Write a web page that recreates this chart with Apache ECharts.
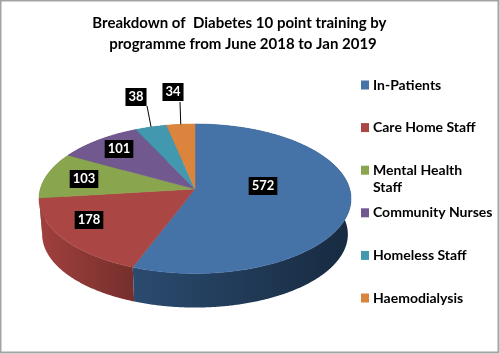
<!DOCTYPE html>
<html>
<head>
<meta charset="utf-8">
<style>
html,body{margin:0;padding:0;background:#fff}
#chartView{width:500px;height:354px}
</style>
<script src="https://cdn.jsdelivr.net/npm/echarts@6/dist/echarts.min.js"></script>
</head>
<body>
<div id="chartView"></div>
<script>
var categories = ['In-Patients', 'Care Home Staff', 'Mental Health Staff', 'Community Nurses', 'Homeless Staff', 'Haemodialysis'];
var values = [572, 178, 103, 101, 38, 34];
var colors = ['#4572a7', '#aa4643', '#89a54e', '#71588f', '#4198af', '#db843d'];

// side wall shading, left to right
var sideShades = [['#2b4b6f', '#172a40'], ['#a0403d', '#752f2c'], ['#667b3a', '#667b3a'], ['#54416a', '#54416a'], ['#306f81', '#306f81'], ['#a2622d', '#a2622d']];
// where the value boxes sit, and which of them get a leader line
var labelSpots = [[263, 186], [89, 220], [84, 179], [119, 149], [136, 97], [173, 92]];
var leaderFrom = [null, null, null, null, [147, 106], [180, 102]];

// perspective of the disc
var cx = 195, cy = 189, rx = 154.7, ry = 73.5, tilt = 0.13;
var depth = 36, baseScale = 0.98;

var total = values.reduce(function (a, b) { return a + b; }, 0);

function project(deg, r, dy) {
    var a = deg * Math.PI / 180;
    var u = Math.sin(a), v = -Math.cos(a);
    var d = 1 - tilt * r * v;
    return [cx + rx * r * u / d, cy + dy + ry * r * v / d];
}

function arc(from, to, r, dy) {
    var pts = [], n = Math.max(2, Math.ceil((to - from) * 2));
    for (var i = 0; i <= n; i++) {
        pts.push(project(from + (to - from) * i / n, r, dy));
    }
    return pts;
}

function sliceItem(idx) {
    return function (params, api) {
        var before = 0;
        for (var i = 0; i < idx; i++) before += values[i];
        var from = before / total * 360;
        var to = (before + api.value(0)) / total * 360;
        var mid = (from + to) / 2;
        var top = arc(from, to, 1, 0);
        var base = arc(from, to, baseScale, depth).reverse();
        var children = [
            {
                type: 'polygon',
                // back slices go under the front walls
                z2: 8 - idx,
                shape: { points: top.concat(base) },
                style: {
                    fill: new echarts.graphic.LinearGradient(0, 0, 1, 0, [
                        { offset: 0, color: sideShades[idx][0] },
                        { offset: 1, color: sideShades[idx][1] }
                    ])
                }
            },
            {
                type: 'polygon',
                z2: 10,
                shape: { points: [[cx, cy]].concat(top) },
                style: { fill: colors[idx], stroke: colors[idx], lineWidth: 0.5 }
            }
        ];
        if (leaderFrom[idx]) {
            var rim = project(mid, 1, 0);
            children.push({
                type: 'line',
                z2: 12,
                shape: { x1: leaderFrom[idx][0], y1: leaderFrom[idx][1], x2: rim[0], y2: rim[1] },
                style: { stroke: '#000', lineWidth: 1 }
            });
        }
        children.push({
            type: 'text',
            z2: 15,
            x: labelSpots[idx][0],
            y: labelSpots[idx][1],
            style: {
                text: String(api.value(0)),
                align: 'center',
                verticalAlign: 'middle',
                fill: '#fff',
                font: 'bold 13px Lato',
                backgroundColor: '#000',
                padding: [3, 3, 2, 3]
            }
        });
        return { type: 'group', children: children };
    };
}

var myChart = echarts.init(document.getElementById('chartView'), null, { renderer: 'canvas' });
var options = {
    animation: false,
    backgroundColor: '#fff',
    title: {
        // trailing spaces on the first line are in the original title
        text: 'Breakdown of  Diabetes 10 point training by  \nprogramme from June 2018 to Jan 2019',
        left: 238,
        top: 8,
        textAlign: 'center',
        textStyle: { fontFamily: 'Lato', fontWeight: 'bold', fontSize: 15, lineHeight: 21, color: '#000' }
    },
    legend: {
        orient: 'vertical',
        left: 361,
        top: 77,
        data: categories,
        icon: 'rect',
        itemWidth: 8,
        itemHeight: 9,
        itemGap: 26.6,
        padding: 0,
        selectedMode: false,
        formatter: function (name) {
            return name === 'Mental Health Staff' ? 'Mental Health' : name;
        },
        textStyle: { fontFamily: 'Lato', fontWeight: 'bold', fontSize: 14, lineHeight: 16, color: '#000', padding: [0, 0, 0, -1] }
    },
    graphic: [
        {
            type: 'text',
            left: 373,
            top: 180,
            style: { text: 'Staff', fill: '#000', font: 'bold 14px Lato' }
        },
        {
            type: 'rect',
            silent: true,
            shape: { x: 0.5, y: 0.5, width: 498, height: 352 },
            style: { fill: 'none', stroke: '#a3a3a3', lineWidth: 2 }
        }
    ],
    series: categories.map(function (name, i) {
        return {
            type: 'custom',
            name: name,
            coordinateSystem: 'none',
            itemStyle: { color: colors[i] },
            data: [values[i]],
            renderItem: sliceItem(i)
        };
    })
};
myChart.setOption(options);
</script>
</body>
</html>
